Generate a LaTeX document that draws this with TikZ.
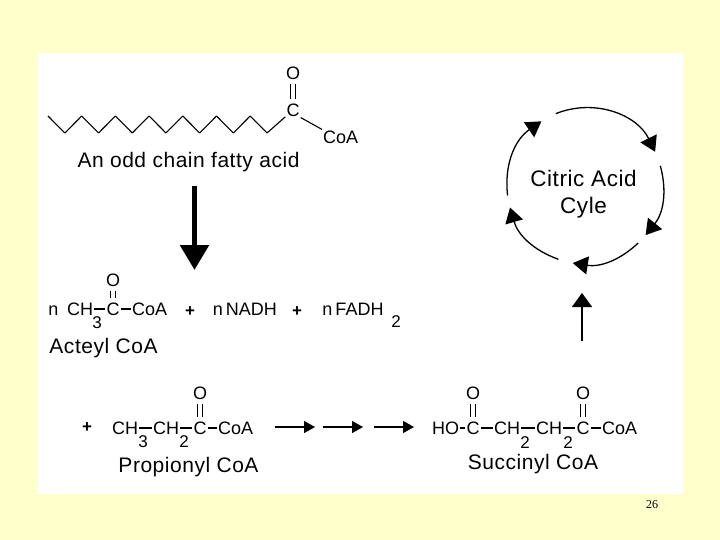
\documentclass[tikz,border=0pt]{standalone}
\usepackage{fontspec}
\setmainfont{Liberation Sans}
\newfontfamily\pagefont{Liberation Serif}
\newfontfamily\labelfont[LetterSpace=2.5]{Liberation Sans}
\usetikzlibrary{arrows.meta,calc,positioning}
\definecolor{slidebg}{RGB}{255,255,204}
\tikzset{
  chem/.style={inner sep=1pt,font=\fontsize{18}{20}\selectfont},
  namelabel/.style={inner sep=1pt,font=\labelfont\fontsize{21}{24}\selectfont},
  cyclabel/.style={inner sep=1pt,font=\labelfont\fontsize{22.5}{26}\selectfont},
  plussign/.style={inner sep=0pt,font=\bfseries\fontsize{17}{20}\selectfont},
  subnum/.style={inner sep=0pt,font=\fontsize{17}{20}\selectfont},
  bond/.style={line width=1.2pt},
  dblbond/.style={line width=1.2pt,shorten <=3pt,shorten >=3pt},
  stepline/.style={line width=1.3pt,-{Triangle[length=11pt,width=12pt]}},
  cycline/.style={line width=1.3pt,-{Triangle[length=15pt,width=18pt]}}
}
% carbonyl group: name, x, y of the C, y of the O
\newcommand{\carbonyl}[4]{%
  \node[chem] (#1) at (#2,#3) {C};
  \node[chem] (#1o) at (#2,#4) {O};
  \draw[dblbond] ([xshift=-2.4pt]#1o.south) -- ([xshift=-2.4pt]#1.north);
  \draw[dblbond] ([xshift=2.4pt]#1o.south) -- ([xshift=2.4pt]#1.north);
}
\newcommand{\singlebond}[2]{\draw[bond] (#1.east) -- (#2.west);}
\begin{document}
\begin{tikzpicture}[x=1pt,y=-1pt]
  \useasboundingbox (0,0) rectangle (720,540);
  \fill[slidebg] (0,0) rectangle (720,540);
  \fill[white] (38,53) rectangle (683,494);

  % fatty acid
  \carbonyl{fac}{293}{110}{73}
  \node[chem,anchor=west] (facoa) at (322,137) {CoA};
  \node[namelabel] (falabel) at (188.5,162) {An odd chain fatty acid};
  \coordinate (chain0) at (48,116);
  \foreach \i in {1,...,13}{
    \pgfmathsetmacro{\chainx}{48+\i*16.85}
    \pgfmathsetmacro{\chainy}{isodd(\i) ? 133 : 116}
    \coordinate (chain\i) at (\chainx,\chainy);
    \pgfmathtruncatemacro{\prev}{\i-1}
    \draw[line width=1.1pt] (chain\prev) -- (chain\i);
  }
  \draw[line width=1.1pt] (chain13) -- (fac);
  \draw[line width=1.1pt] (fac.south east) -- (facoa.north west);

  % big arrow
  \coordinate (bigtop) at (194.5,186);
  \coordinate (bigtip) at (194.5,270);
  \draw[line width=5.5pt,-{Triangle[length=25pt,width=28pt]}] (bigtop) -- (bigtip);

  % acetyl row
  \carbonyl{acc}{113}{309}{280}
  \node[chem] (acn) at (53.5,311) {n};
  \node[chem,anchor=west] (acch) at (66,309) {CH};
  \node[subnum] (acsub) at (97,323) {3};
  \node[chem,anchor=west] (accoa) at (131,309) {CoA};
  \singlebond{acch}{acc}
  \singlebond{acc}{accoa}
  \node[plussign] (plusa) at (190,312) {+};
  \node[chem] (nadh) at (245,309) {n\,NADH};
  \node[plussign] (plusb) at (297,312) {+};
  \node[chem] (fadh) at (353,309) {n\,FADH};
  \node[subnum] (fadhsub) at (396,322) {2};
  \node[namelabel] (aclabel) at (103.5,348) {Acteyl CoA};

  % propionyl row
  \carbonyl{prc}{200}{428}{393}
  \node[plussign] (plusc) at (87,428) {+};
  \node[chem,anchor=west] (prcha) at (111,428) {CH};
  \node[subnum] (prsuba) at (143,442) {3};
  \node[chem,anchor=west] (prchb) at (152,428) {CH};
  \node[subnum] (prsubb) at (184,442) {2};
  \node[chem,anchor=west] (prcoa) at (217,428) {CoA};
  \singlebond{prcha}{prchb}
  \singlebond{prchb}{prc}
  \singlebond{prc}{prcoa}
  \node[namelabel] (prlabel) at (188.5,467) {Propionyl CoA};

  % steps
  \coordinate (stepa) at (275,427);
  \coordinate (stepb) at (315,427);
  \coordinate (stepc) at (323,427);
  \coordinate (stepd) at (363,427);
  \coordinate (stepe) at (374,427);
  \coordinate (stepf) at (414,427);
  \draw[stepline] (stepa) -- (stepb);
  \draw[stepline] (stepc) -- (stepd);
  \draw[stepline] (stepe) -- (stepf);

  % succinyl row
  \carbonyl{suca}{473}{428}{393}
  \carbonyl{sucb}{583}{428}{393}
  \node[chem,anchor=west] (suho) at (431,428) {HO};
  \node[chem,anchor=west] (such) at (493,428) {CH};
  \node[subnum] (susuba) at (525,443) {2};
  \node[chem,anchor=west] (suchb) at (535,428) {CH};
  \node[subnum] (susubb) at (568,443) {2};
  \node[chem,anchor=west] (sucoa) at (601,428) {CoA};
  \singlebond{suho}{suca}
  \singlebond{suca}{such}
  \singlebond{such}{suchb}
  \singlebond{suchb}{sucb}
  \singlebond{sucb}{sucoa}
  \node[namelabel] (sulabel) at (533,464) {Succinyl CoA};

  % citric acid cycle
  \node[cyclabel] (cyca) at (583.5,178) {Citric Acid};
  \node[cyclabel,below=9pt of cyca] (cycb) {Cyle};
  \coordinate (cyc) at (585,186);
  \foreach \arcname/\from/\to/\bendang in {a/248/334/43,b/345/39/27,c/47/99/26,d/110/164/27,e/173/236/31}{
    \coordinate (arc\arcname s) at ($(cyc)+(\from:78)$);
    \coordinate (arc\arcname e) at ($(cyc)+(\to:78)$);
    \draw[cycline] (arc\arcname s) to[bend left=\bendang] (arc\arcname e);
  }
  \coordinate (feedbot) at (582,341);
  \coordinate (feedtop) at (582,293);
  \draw[line width=1.5pt,-{Triangle[length=14pt,width=20pt]}] (feedbot) -- (feedtop);

  \node[inner sep=0pt,font=\pagefont\fontsize{12}{14}\selectfont] (pagenum) at (652,505) {26};
\end{tikzpicture}
\end{document}
